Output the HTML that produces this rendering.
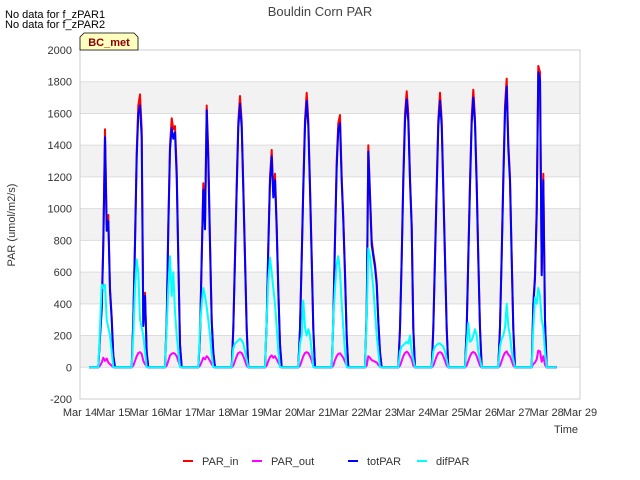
<!DOCTYPE html>
<html><head><meta charset="utf-8"><style>
body{margin:0;background:#fff;font-family:"Liberation Sans",sans-serif;}
svg{display:block}
</style></head><body>
<svg id="chart" width="640" height="480" xmlns="http://www.w3.org/2000/svg">
<rect width="640" height="480" fill="#fff"/>
<text x="5" y="18" font-size="11" fill="#000">No data for f_zPAR1</text>
<text x="5" y="28" font-size="11" fill="#000">No data for f_zPAR2</text>
<text x="320" y="16" font-size="13" fill="#444" text-anchor="middle">Bouldin Corn PAR</text>
<g id="bands"></g>
<g id="grid"></g>
<rect x="80" y="50" width="500" height="349" fill="none" stroke="#ccc"/>
<g id="yticks"></g><g id="xticks"></g>
<g id="series"></g>
<path d="M80,50 L80,37 L84,33 L134,33 L138,37 L138,50 Z" fill="#ffffc0" stroke="#000" stroke-width="0.8"/>
<text x="109" y="46" font-size="11" font-weight="bold" fill="#8b0000" text-anchor="middle">BC_met</text>
<text x="15" y="225" font-size="11" fill="#333" text-anchor="middle" transform="rotate(-90 15 225)">PAR (umol/m2/s)</text>
<text x="578" y="433" font-size="11" fill="#333" text-anchor="end">Time</text>
<g id="legend"></g>
</svg>
<script>
const yTicks=[-200,0,200,400,600,800,1000,1200,1400,1600,1800,2000];
const xTickLabels=["Mar 14","Mar 15","Mar 16","Mar 17","Mar 18","Mar 19","Mar 20","Mar 21","Mar 22","Mar 23","Mar 24","Mar 25","Mar 26","Mar 27","Mar 28","Mar 29"];
const seriesNames=["PAR_in","PAR_out","totPAR","difPAR"];
const parIn=[
[0,200,380,800,1500,900,960,500,320,80,0],
[0,300,800,1360,1650,1720,1500,280,470,100,0],
[0,300,900,1400,1570,1500,1520,1250,700,150,0],
[0,200,700,1160,900,1650,1350,800,300,100,0],
[0,250,700,1150,1550,1710,1550,1150,700,250,0],
[0,300,770,1200,1370,1100,1220,900,500,150,0],
[0,250,700,1150,1560,1730,1560,1150,700,250,0],
[0,300,820,1300,1540,1590,1200,950,600,200,0],
[0,350,1400,1100,800,720,650,540,300,100,0],
[0,250,700,1200,1600,1740,1600,1200,900,250,0],
[0,250,700,1150,1560,1730,1560,1150,700,250,0],
[0,250,700,1170,1580,1750,1570,1170,700,250,0],
[0,260,720,1200,1650,1820,1420,1200,700,250,0],
[0,400,580,1000,1900,1860,600,1220,300,0,0]];
const totPar=[
[0,190,360,760,1450,860,920,480,300,70,0],
[0,290,770,1320,1600,1650,1450,260,450,90,0],
[0,290,870,1370,1510,1440,1480,1200,680,140,0],
[0,190,680,1120,870,1620,1300,770,290,90,0],
[0,240,680,1120,1510,1660,1510,1120,680,240,0],
[0,290,750,1170,1330,1070,1180,870,480,140,0],
[0,240,680,1120,1520,1680,1520,1120,680,240,0],
[0,290,800,1260,1500,1540,1170,920,580,190,0],
[0,340,1360,1070,770,700,630,520,290,90,0],
[0,240,680,1170,1550,1690,1550,1170,880,240,0],
[0,240,680,1120,1520,1680,1520,1120,680,240,0],
[0,240,680,1140,1540,1700,1530,1140,680,240,0],
[0,250,700,1170,1600,1770,1380,1170,680,240,0],
[0,390,560,970,1860,1810,580,1180,290,0,0]];
const difPar=[
[0,250,520,500,520,300,250,200,100,0,0],
[0,200,500,680,600,300,250,200,100,0,0],
[0,250,500,700,450,600,350,200,100,0,0],
[0,250,400,500,450,380,300,200,80,0,0],
[0,120,150,160,170,180,170,150,100,50,0],
[0,300,550,690,600,500,400,250,100,0,0],
[0,150,200,420,250,200,240,200,100,0,0],
[0,300,500,650,700,600,400,250,100,0,0],
[0,300,750,700,600,500,350,200,100,0,0],
[0,100,130,140,150,160,150,200,100,50,0],
[0,100,130,140,150,150,140,130,100,50,0],
[0,150,280,160,170,200,240,200,100,50,0],
[0,130,180,200,250,400,260,200,100,50,0],
[0,250,440,400,500,450,300,250,100,0,0]];
const parOut=[
[0,10,30,60,40,55,30,20,10,0,0],
[0,10,40,70,90,95,85,40,20,5,0],
[0,10,40,75,85,90,85,70,40,10,0],
[0,10,35,60,50,70,60,40,20,5,0],
[0,10,40,70,90,95,90,70,40,10,0],
[0,10,40,65,75,60,70,50,30,10,0],
[0,10,40,70,90,95,90,70,40,10,0],
[0,10,45,70,85,88,75,60,35,10,0],
[0,10,70,60,45,40,35,30,15,5,0],
[0,10,40,70,90,98,90,70,50,10,0],
[0,10,40,70,90,95,90,70,40,10,0],
[0,10,40,70,90,96,90,70,40,10,0],
[0,10,40,70,92,100,80,70,40,10,0],
[0,20,30,50,105,100,35,70,15,0,0]];

const NS="http://www.w3.org/2000/svg";
const X0=80,X1=580,Y0=399,Y1=50,DAYS=15;
const xs=t=>X0+(t/DAYS)*(X1-X0);
const ys=v=>Y0-(v-(-200))/2200*(Y0-Y1);
function mk(tag,attrs,parent){const e=document.createElementNS(NS,tag);for(const k in attrs)e.setAttribute(k,attrs[k]);parent.appendChild(e);return e;}
const bands=document.getElementById('bands'),grid=document.getElementById('grid');
for(let i=0;i<yTicks.length-1;i++){
  const a=yTicks[i],b=yTicks[i+1];
  if(i%2===1){const r=mk('rect',{x:X0,y:ys(b),width:X1-X0,height:ys(a)-ys(b),fill:'#f2f2f2'},bands);
  
  }
}
const yt=document.getElementById('yticks');
yTicks.forEach(v=>{
  const l=mk('line',{x1:X0,x2:X1,y1:ys(v),y2:ys(v),stroke:'#ddd','stroke-width':1},grid);
  
  
  const t=mk('text',{x:X0-8,y:ys(v)+4,'font-size':11,fill:'#333','text-anchor':'end'},yt);
  t.textContent=v;
  
  
});
const xt=document.getElementById('xticks');
xTickLabels.forEach((s,i)=>{
  const t=mk('text',{x:xs(i),y:416,'font-size':11,fill:'#333','text-anchor':'middle'},xt);
  t.textContent=s;
  
  
});
function pts(arr){
  let p=[[xs(0.27),ys(0)]];
  arr.forEach((day,d)=>day.forEach((v,i)=>p.push([xs(d+0.55+0.05*i),ys(v)])));
  p.push([xs(14.3),ys(0)]);
  return p.map(q=>q[0].toFixed(1)+','+q[1].toFixed(1)).join(' ');
}
const sg=document.getElementById('series');
const colors=['#ff0000','#ff00ff','#0000ff','#00ffff'];
const datas=[parIn,parOut,totPar,difPar];
datas.forEach((arr,k)=>{
  const pl=mk('polyline',{points:pts(arr),fill:'none',stroke:colors[k],'stroke-width':2,'stroke-linejoin':'round'},sg);
  
  
});
const lg=document.getElementById('legend');
const lx=[183,252,348,417];
seriesNames.forEach((n,k)=>{
  const g=mk('g',{},lg);
  
  
  mk('line',{x1:lx[k],x2:lx[k]+10,y1:461,y2:461,stroke:colors[k],'stroke-width':2},g);
  const t=mk('text',{x:lx[k]+19,y:465,'font-size':11,fill:'#333'},g);
  t.textContent=n;
});
</script>
</body></html>
